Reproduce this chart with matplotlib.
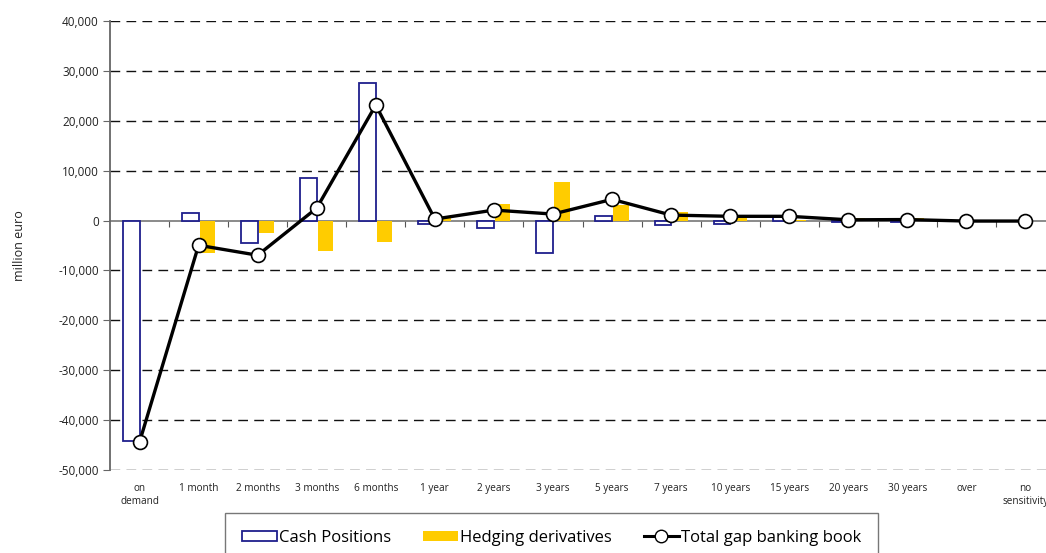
import matplotlib
matplotlib.use("Agg")
import matplotlib.pyplot as plt
import numpy as np
from matplotlib.patches import Patch
from matplotlib.lines import Line2D
from matplotlib.ticker import FuncFormatter
import matplotlib.transforms as mtransforms

plt.rcParams['font.family'] = ['Open Sans', 'DejaVu Sans']

categories = ["on\ndemand", "1 month", "2 months", "3 months", "6 months", "1 year",
              "2 years", "3 years", "5 years", "7 years", "10 years", "15 years",
              "20 years", "30 years", "over", "no\nsensitivity"]
cash_positions = [-44200, 1550, -4500, 8600, 27600, -750, -1450, -6550, 900, -950,
                  -750, 700, -300, -250, 0, 0]
hedging_derivatives = [0, -6450, -2500, -6050, -4300, 1000, 3300, 7650, 3050, 1700,
                       1000, 150, 450, 450, -100, -100]
total_gap = [-44400, -4950, -6950, 2500, 23150, 300, 2100, 1300, 4250, 1100,
             850, 850, 150, 200, -100, -100]
yticks = [40000, 30000, 20000, 10000, 0, -10000, -20000, -30000, -40000, -50000]

W, H = 1046, 553
fig = plt.figure(figsize=(W/100, H/100), dpi=100)
ax = fig.add_axes([110/W, (H-470)/H, 945/W, 449/H])

x = np.arange(len(categories))
bw = 0.28
ax.bar(x - bw/2, cash_positions, width=bw, facecolor='white', edgecolor='#1f1f8c',
       linewidth=1.3, zorder=3)
ax.bar(x + bw/2 + 0.01, hedging_derivatives, width=bw - 0.02, facecolor='#ffcc00',
       edgecolor='none', zorder=3)
ax.plot(x, total_gap, color='black', lw=2.4, marker='o', markersize=10,
        markerfacecolor='white', markeredgecolor='black', markeredgewidth=1.2, zorder=5)

ax.set_xlim(-0.5, len(categories) - 0.5)
ax.set_ylim(-50000, 40000)
ax.set_yticks(yticks)
ax.yaxis.set_major_formatter(FuncFormatter(lambda v, p: f"{int(v):,}"))
ax.tick_params(axis='y', direction='out', length=5, color='#666666', labelsize=8.5,
               labelcolor='#222222', pad=3)
for v in yticks:
    if v != 0:
        ax.axhline(v, color='#111111', lw=1.0, dashes=(7, 4.5), zorder=1)

for s in ['top', 'right']:
    ax.spines[s].set_visible(False)
ax.spines['left'].set_color('#666666')
ax.spines['left'].set_linewidth(1.3)
ax.spines['bottom'].set_position(('data', 0))
ax.spines['bottom'].set_color('#777777')
ax.spines['bottom'].set_linewidth(1.2)
ax.spines['bottom'].set_zorder(2)
ax.set_xticks(np.arange(0.5, len(categories) - 0.5, 1.0))
ax.set_xticklabels([])
ax.tick_params(axis='x', direction='out', length=4, color='#555555')

trans = mtransforms.blended_transform_factory(ax.transData, ax.transAxes)
for xi, lab in zip(x, categories):
    ax.text(xi, -0.028, lab, transform=trans, ha='center', va='top', fontsize=7.2,
            color='#222222', linespacing=1.35)

ax.set_ylabel("million euro", fontsize=9, color='#222222')
ax.yaxis.set_label_coords(-0.089, 0.5)

handles = [Patch(facecolor='white', edgecolor='#1f1f8c', linewidth=1.3),
           Patch(facecolor='#ffcc00', edgecolor='none'),
           Line2D([0], [0], color='black', lw=2.2, marker='o', markersize=9,
                  markerfacecolor='white', markeredgecolor='black')]
labels = ["Cash Positions", "Hedging derivatives", "Total gap banking book"]
leg = fig.legend(handles, labels, loc='upper left', bbox_to_anchor=(225/W, 1 - 513/H),
                 ncol=3, frameon=True, fancybox=False, fontsize=12, handlelength=2.1,
                 handletextpad=0.15, columnspacing=1.9, borderpad=1.0,
                 handleheight=0.55, borderaxespad=0)
leg.get_frame().set_edgecolor('#555555')
leg.get_frame().set_linewidth(1.0)

fig.savefig("out.png", dpi=100)
